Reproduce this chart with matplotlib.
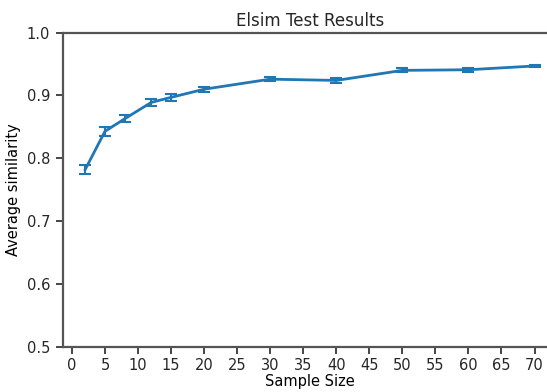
import matplotlib
matplotlib.use("Agg")
import matplotlib.pyplot as plt

# --- averaged similarity per sample size
sample_sizes = [2, 5, 8, 12, 15, 20, 30, 40, 50, 60, 70]
avg_similarity = [0.782, 0.843, 0.863, 0.889, 0.897, 0.910, 0.926, 0.924, 0.940, 0.941, 0.947]
similarity_err = [0.007, 0.007, 0.006, 0.005, 0.005, 0.004, 0.003, 0.004, 0.003, 0.003, 0.002]

x_ticks = list(range(0, 75, 5))
y_ticks = [0.5, 0.6, 0.7, 0.8, 0.9, 1.0]

plt.rcParams['font.size'] = 10
plt.rcParams['text.color'] = '#262626'
plt.rcParams['xtick.color'] = '#262626'
plt.rcParams['ytick.color'] = '#262626'

fig = plt.figure(figsize=(5.47, 3.92), dpi=100)
ax = fig.add_axes([0.1146, 0.1156, 0.9037, 0.801])

ax.errorbar(sample_sizes, avg_similarity, yerr=similarity_err,
            color='#1f77b4', linewidth=2, capsize=4, elinewidth=1.5, capthick=1.5)

ax.set_xlim(-1.4, 73.4)
ax.set_ylim(0.5, 1.0)
ax.set_xticks(x_ticks)
ax.set_yticks(y_ticks)
ax.set_xticklabels([str(t) for t in x_ticks], fontsize=10.5)
ax.set_yticklabels(['%.1f' % t for t in y_ticks], fontsize=10.5)
ax.tick_params(length=5, width=1.2)
ax.tick_params(axis='x', pad=3)
ax.tick_params(axis='y', pad=4)
for s in ax.spines.values():
    s.set_color('#555555')
    s.set_linewidth(1.6)

ax.set_title('Elsim Test Results', fontsize=12, pad=5)
ax.set_xlabel('Sample Size', fontsize=10.5, labelpad=1)
ax.set_ylabel('Average similarity', fontsize=10.5, labelpad=4)

fig.savefig('out.png', dpi=100)
